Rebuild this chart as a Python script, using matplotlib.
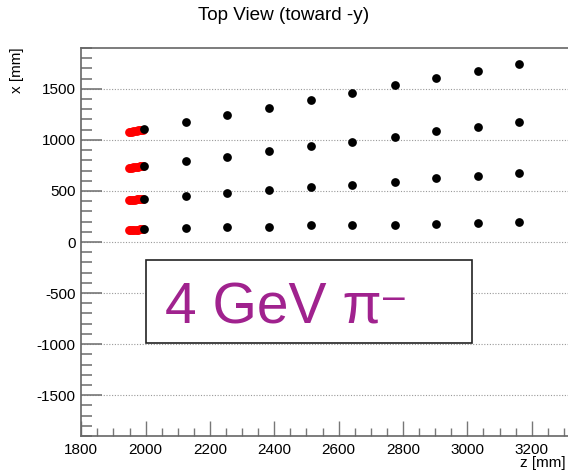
import numpy as np
import matplotlib
matplotlib.use("Agg")
from matplotlib import pyplot as plt
from matplotlib.ticker import MultipleLocator
from matplotlib.patches import Rectangle

plt.rcParams['font.family'] = ['Liberation Sans', 'DejaVu Sans']
plt.rcParams['axes.unicode_minus'] = False

# layer positions along z (black hits)
z_layers = [1995, 2124, 2253, 2384, 2513, 2642, 2775, 2903, 3032, 3161]

# x of the four tracks at each layer
track1_x = [1102, 1180, 1245, 1314, 1389, 1458, 1536, 1602, 1676, 1745]
track2_x = [745, 798, 837, 892, 941, 984, 1033, 1085, 1127, 1180]
track3_x = [422, 451, 484, 510, 536, 559, 592, 622, 647, 671]
track4_x = [125, 134, 144, 151, 164, 171, 171, 180, 186, 193]

# red hits in front of first layer
red_z = [1947, 1952, 1957, 1962, 1967, 1972, 1977, 1982, 1987, 1992]
red1_x = [1075, 1078, 1081, 1084, 1087, 1090, 1093, 1096, 1098, 1100]
red2_x = [722, 725, 728, 730, 733, 736, 738, 741, 743, 745]
red3_x = [412, 413, 414, 415, 416, 417, 418, 419, 420, 421]
red4_x = [117, 118, 119, 119, 120, 121, 122, 123, 124, 124]

fig = plt.figure(figsize=(5.68, 4.73), dpi=100)
W, H = 568, 473
x0, x1 = 1800, 3350
pxu = 0.3217
ax = fig.add_axes([81.3 / W, 37 / H, (x1 - x0) * pxu / W, 388 / H])

for xs in [red1_x, red2_x, red3_x, red4_x]:
    ax.plot(red_z, xs, 'o', color='red', ms=6.3, mew=0, zorder=3)
for xs in [track1_x, track2_x, track3_x, track4_x]:
    ax.plot(z_layers, xs, 'o', color='black', ms=6.3, mew=0, zorder=4)

ax.set_xlim(x0, x1)
ax.set_ylim(-1900, 1900)
ax.xaxis.set_major_locator(MultipleLocator(200))
ax.xaxis.set_minor_locator(MultipleLocator(50))
ax.yaxis.set_major_locator(MultipleLocator(500))
ax.yaxis.set_minor_locator(MultipleLocator(100))
ax.tick_params(which='both', direction='in', color='#777777', labelsize=11)
ax.tick_params(axis='y', which='major', length=15, width=1.2, pad=4)
ax.tick_params(axis='y', which='minor', length=8, width=1.2)
ax.tick_params(axis='x', which='major', length=11, width=1, pad=5)
ax.tick_params(axis='x', which='minor', length=6, width=1)
for s in ax.spines.values():
    s.set_color('#666666')
    s.set_linewidth(1.2)
ax.yaxis.grid(True, linestyle=(0, (1, 1.5)), color='#999999', linewidth=0.8)
ax.set_axisbelow(True)

# label box
ax.add_patch(Rectangle((1800 + (145.7 - 81.3) / pxu, -990), (472.3 - 145.7) / pxu, 815,
                       facecolor='white', edgecolor='#222222', linewidth=1.2, zorder=5))
purple = '#a0228e'
t = ax.text(1800 + (165 - 81.3) / pxu, -795, '4 GeV π', fontsize=41,
            color=purple, va='baseline', ha='left', zorder=6)
ax.annotate('–', xy=(1.0, 0.0), xycoords=t, xytext=(1, 19), textcoords='offset points',
            fontsize=28, color=purple, ha='left', va='baseline', zorder=6)

fig.text(284 / W, 1 - 16 / H, 'Top View (toward -y)', ha='center', va='center', fontsize=13.6)
fig.text(17 / W, 1 - 47 / H, 'x [mm]', rotation=90, ha='center', va='top', fontsize=11)
fig.text(566 / W, 1 - 463 / H, 'z [mm]', ha='right', va='center', fontsize=11)

fig.savefig('out.png', dpi=100)
